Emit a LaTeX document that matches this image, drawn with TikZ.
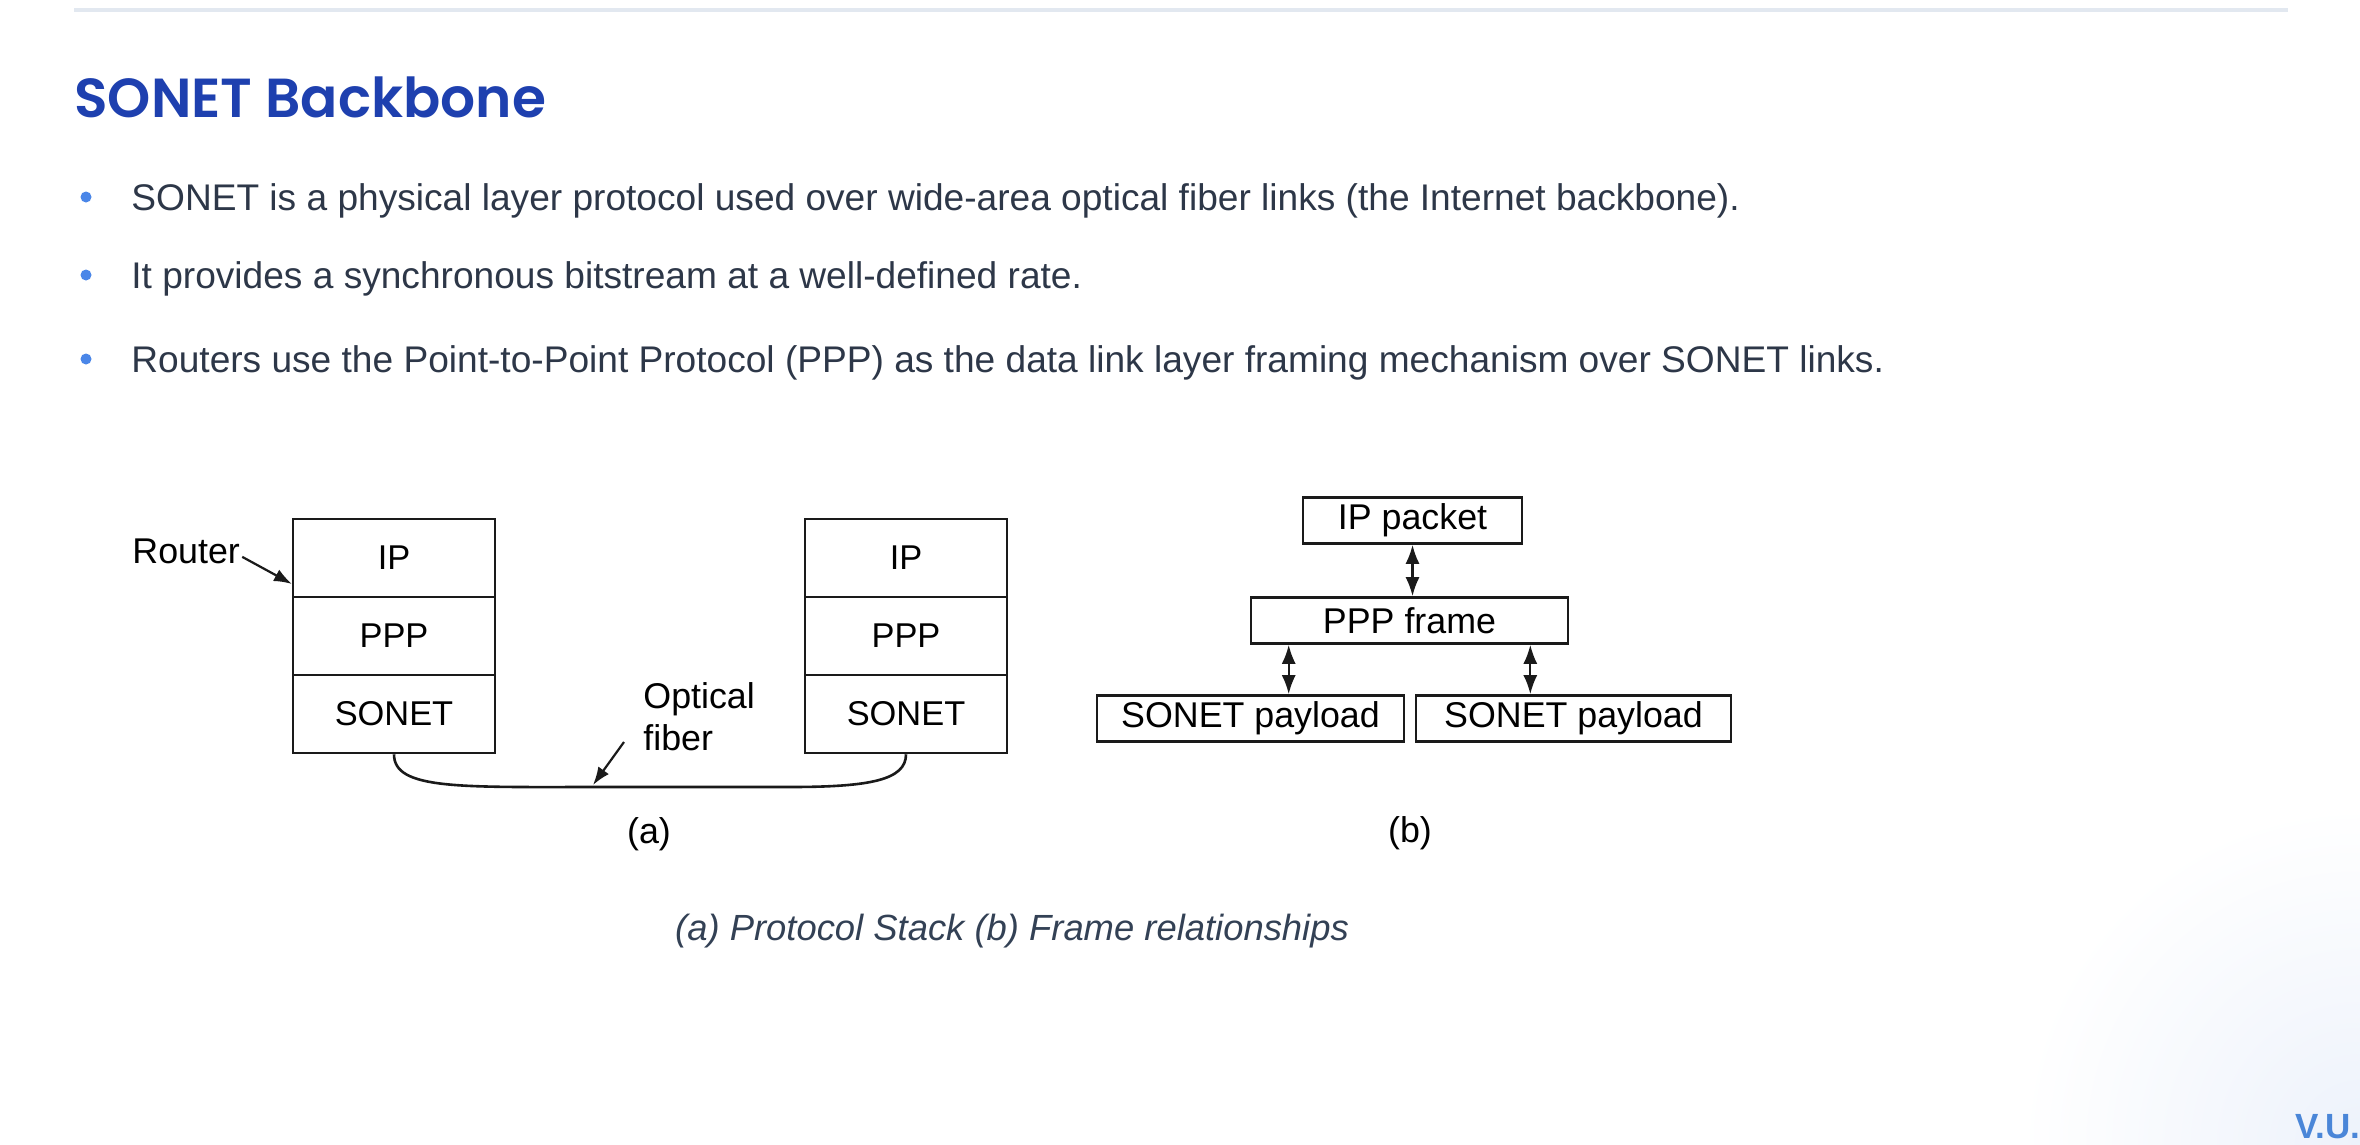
\documentclass[tikz,border=0pt]{standalone}
\usepackage{fontspec}
\setmainfont{Liberation Sans}
\newfontfamily\titlefont{Poppins}[BoldFont={Poppins SemiBold}]
\newfontfamily\bodyfont{Liberation Sans}
\newfontfamily\figfont{Liberation Sans}
\usetikzlibrary{arrows.meta,calc}
\definecolor{titleblue}{HTML}{1E40AF}
\definecolor{bodytext}{HTML}{2D3748}
\definecolor{captext}{HTML}{334155}
\definecolor{bulletblue}{HTML}{4A86E8}
\definecolor{rulegray}{HTML}{E2E8F0}
\definecolor{vublue}{HTML}{4A86D8}
\definecolor{figline}{HTML}{1A1A1A}
\definecolor{glow}{HTML}{EDF2FB}
\tikzset{
  bodyline/.style={anchor=base west, inner sep=0pt, text=bodytext, font=\bodyfont\fontsize{18.55}{22}\selectfont},
  dot/.style={circle, fill=bulletblue, inner sep=0pt, minimum size=5.5pt},
  layer/.style={draw=figline, line width=1.3pt, minimum width=101pt, minimum height=39pt, inner sep=0pt, font=\figfont\fontsize{17.2}{20}\selectfont},
  fbox/.style={draw=figline, line width=1.3pt, minimum height=23pt, inner sep=0pt, font=\figfont\fontsize{17.9}{21}\selectfont},
  figlabel/.style={inner sep=0pt, font=\figfont\fontsize{17.9}{21}\selectfont},
  ptr/.style={figline, line width=1.1pt, -{Latex[length=9pt,width=6.5pt]}},
  dblarrow/.style={figline, line width=1.1pt, {Latex[length=9.5pt,width=7pt]}-{Latex[length=9.5pt,width=7pt]}},
}
\begin{document}
\begin{tikzpicture}[x=0.5pt,y=-0.5pt]
\useasboundingbox (0,0) rectangle (2360,1145);
\fill[white] (0,0) rectangle (2360,1145);
\begin{scope}
  \clip (0,0) rectangle (2360,1145);
  \shade[inner color=glow, outer color=white] (2360,1145) circle (340);
\end{scope}
% top rule
\fill[rulegray] (74,8) rectangle (2288,12);
% title
\node[anchor=base west, inner sep=0pt, text=titleblue, font=\titlefont\bfseries\fontsize{27.5}{31}\selectfont] (title) at (74,118) {SONET Backbone};
% bullets
\node[dot] (d1) at (86,197) {};
\node[dot] (d2) at (86,275) {};
\node[dot] (d3) at (86,359) {};
\node[bodyline] (b1) at (131,210) {SONET is a physical layer protocol used over wide-area optical fiber links (the Internet backbone).};
\node[bodyline] (b2) at (131,288) {It provides a synchronous bitstream at a well-defined rate.};
\node[bodyline] (b3) at (131,372) {Routers use the Point-to-Point Protocol (PPP) as the data link layer framing mechanism over SONET links.};
% (a) stacks
\node[layer] (lip) at (394,558) {IP};
\node[layer] (lppp) at (394,636) {PPP};
\node[layer] (lson) at (394,714) {SONET};
\node[layer] (rip) at (906,558) {IP};
\node[layer] (rppp) at (906,636) {PPP};
\node[layer] (rson) at (906,714) {SONET};
% router label
\node[figlabel, anchor=base west] (router) at (132,563) {Router};
\coordinate (rtip) at (292,584);
\draw[ptr] (router.east) ++(2,6) -- (rtip);
% fiber
\coordinate (fa) at (600,787);
\coordinate (fb) at (790,787);
\draw[figline, line width=1.3pt] (lson.south) .. controls (394,790) and (460,787) .. (fa) -- (fb) .. controls (870,787) and (906,780) .. (rson.south);
\node[figlabel, anchor=base west] (optical) at (643,708) {Optical};
\node[figlabel, anchor=base west] (fiber) at (643,750) {fiber};
\coordinate (ftip) at (593,785);
\draw[ptr] (624,742) -- (ftip);
\node[figlabel, anchor=base] (capa) at (649,843) {(a)};
% (b) frames
\node[fbox, minimum width=109.5pt] (ipp) at (1412.5,520.5) {IP packet};
\node[fbox, minimum width=158.5pt] (pppf) at (1409.5,620.5) {PPP frame};
\node[fbox, minimum width=153.5pt] (spl) at (1250.5,718.5) {SONET payload};
\node[fbox, minimum width=157.5pt] (spr) at (1573.5,718.5) {SONET payload};
\draw[dblarrow] (ipp.south) -- (ipp.south |- pppf.north);
\coordinate (pl) at ($(pppf.south west)+(39,0)$);
\coordinate (pr) at ($(pppf.south east)+(-39,0)$);
\draw[dblarrow] (pl) -- (pl |- spl.north);
\draw[dblarrow] (pr) -- (pr |- spr.north);
\node[figlabel, anchor=base] (capb) at (1410,842) {(b)};
% caption
\node[anchor=base, inner sep=0pt, text=captext, font=\bodyfont\itshape\fontsize{18.2}{22}\selectfont] (caption) at (1012,940) {(a) Protocol Stack (b) Frame relationships};
% footer mark
\node[anchor=base west, inner sep=0pt, text=vublue, font=\bodyfont\bfseries\fontsize{17.5}{20}\selectfont] (vu) at (2295,1138) {V.U.};
\end{tikzpicture}
\end{document}
